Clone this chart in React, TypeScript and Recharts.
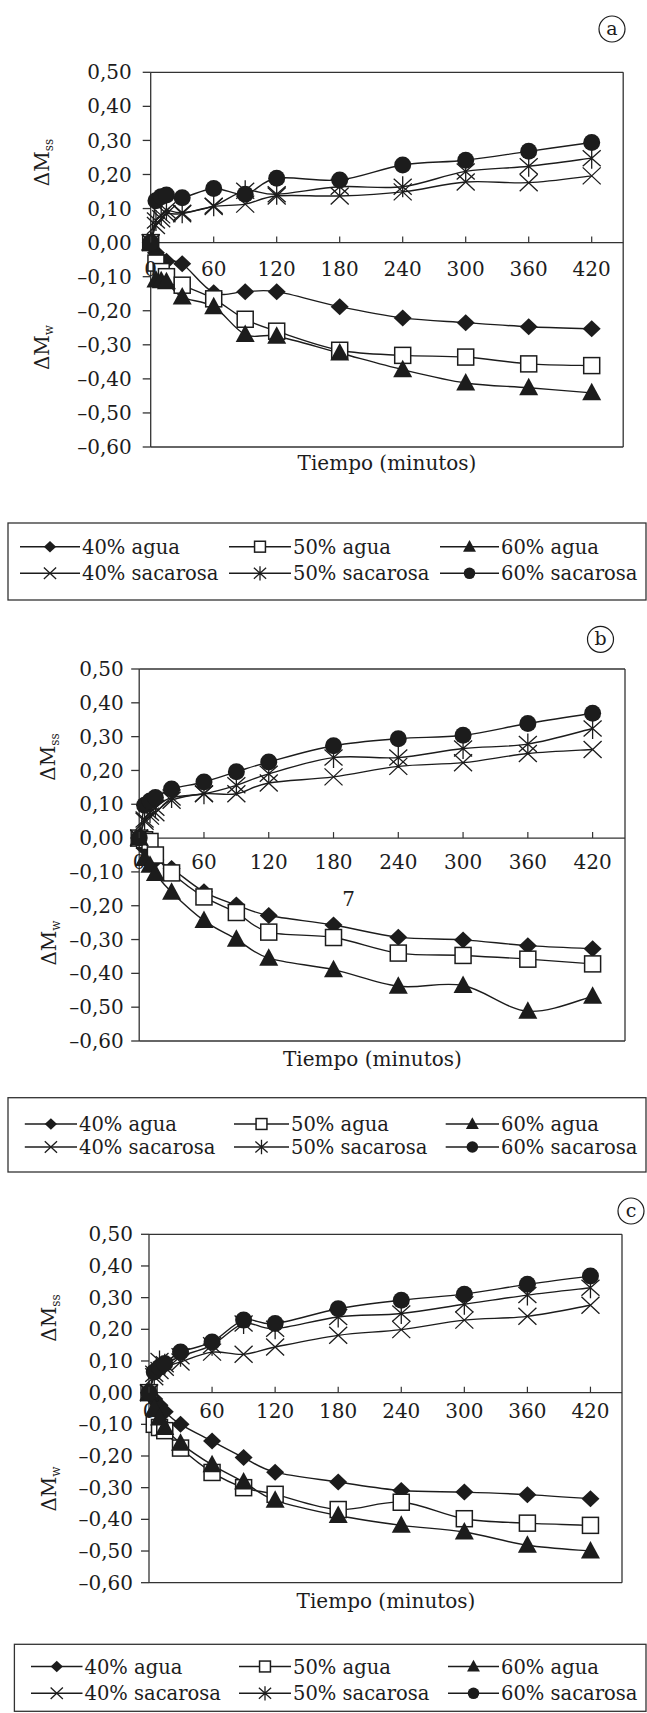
import React from 'react';
import { LineChart, Line, XAxis, YAxis, ReferenceLine } from 'recharts';

// ---------- data ----------
const TIEMPOS = [0, 5, 10, 15, 30, 60, 90, 120, 180, 240, 300, 360, 420];
const X_TICKS = [0, 60, 120, 180, 240, 300, 360, 420];
const Y_TICKS = [-0.6, -0.5, -0.4, -0.3, -0.2, -0.1, 0, 0.1, 0.2, 0.3, 0.4, 0.5];
const SERIES_NAMES = ['40% agua', '50% agua', '60% agua', '40% sacarosa', '50% sacarosa', '60% sacarosa'];
const SERIES_KEYS = ['a40', 'a50', 'a60', 's40', 's50', 's60'];
const SERIES_MARKERS = ['diamond', 'square', 'triangle', 'x', 'star', 'circle'];

// panel (a)
const A_AGUA_40 = [0, -0.03, -0.05, -0.055, -0.062, -0.147, -0.144, -0.144, -0.188, -0.221, -0.235, -0.247, -0.253];
const A_AGUA_50 = [0, -0.06, -0.085, -0.1, -0.125, -0.165, -0.225, -0.26, -0.316, -0.331, -0.336, -0.356, -0.361];
const A_AGUA_60 = [0, -0.11, -0.112, -0.115, -0.16, -0.188, -0.27, -0.275, -0.324, -0.373, -0.412, -0.426, -0.441];
const A_SAC_40 = [0, 0.05, 0.07, 0.085, 0.085, 0.106, 0.113, 0.137, 0.137, 0.149, 0.178, 0.176, 0.196];
const A_SAC_50 = [0, 0.065, 0.08, 0.095, 0.088, 0.108, 0.152, 0.142, 0.164, 0.164, 0.209, 0.224, 0.248];
const A_SAC_60 = [0, 0.123, 0.135, 0.14, 0.132, 0.159, 0.142, 0.189, 0.184, 0.228, 0.242, 0.268, 0.294];

// panel (b)
const B_AGUA_40 = [0, -0.03, -0.05, -0.065, -0.09, -0.159, -0.198, -0.229, -0.257, -0.293, -0.301, -0.318, -0.327];
const B_AGUA_50 = [0, -0.005, -0.01, -0.05, -0.103, -0.174, -0.22, -0.278, -0.294, -0.34, -0.347, -0.358, -0.372];
const B_AGUA_60 = [0, -0.06, -0.08, -0.105, -0.16, -0.244, -0.299, -0.355, -0.389, -0.438, -0.436, -0.512, -0.468];
const B_SAC_40 = [0, 0.05, 0.065, 0.075, 0.112, 0.131, 0.131, 0.163, 0.181, 0.212, 0.223, 0.25, 0.262];
const B_SAC_50 = [0, 0.055, 0.075, 0.09, 0.12, 0.131, 0.156, 0.19, 0.238, 0.238, 0.265, 0.278, 0.324];
const B_SAC_60 = [0, 0.097, 0.11, 0.12, 0.145, 0.166, 0.196, 0.225, 0.273, 0.294, 0.304, 0.339, 0.369];

// panel (c)
const C_AGUA_40 = [0, -0.02, -0.04, -0.06, -0.1, -0.153, -0.205, -0.251, -0.282, -0.309, -0.314, -0.322, -0.335];
const C_AGUA_50 = [0, -0.1, -0.11, -0.12, -0.175, -0.252, -0.3, -0.321, -0.369, -0.346, -0.398, -0.412, -0.419];
const C_AGUA_60 = [0, -0.05, -0.08, -0.11, -0.16, -0.228, -0.282, -0.34, -0.388, -0.419, -0.44, -0.482, -0.5];
const C_SAC_40 = [0, 0.05, 0.07, 0.08, 0.097, 0.128, 0.121, 0.144, 0.181, 0.199, 0.229, 0.241, 0.276];
const C_SAC_50 = [0, 0.06, 0.1, 0.09, 0.115, 0.15, 0.218, 0.202, 0.239, 0.25, 0.279, 0.308, 0.331];
const C_SAC_60 = [0, 0.065, 0.08, 0.092, 0.128, 0.16, 0.229, 0.218, 0.265, 0.292, 0.311, 0.342, 0.368];

const PANEL_LETTERS = ['a', 'b', 'c'];
const X_TITLE = 'Tiempo (minutos)';
const STRAY_TEXT = '7';

const buildRows = (series: number[][]) =>
  TIEMPOS.map((t, i) => {
    const row: any = { t };
    SERIES_KEYS.forEach((k, j) => (row[k] = series[j][i]));
    return row;
  });

const DATA_A = buildRows([A_AGUA_40, A_AGUA_50, A_AGUA_60, A_SAC_40, A_SAC_50, A_SAC_60]);
const DATA_B = buildRows([B_AGUA_40, B_AGUA_50, B_AGUA_60, B_SAC_40, B_SAC_50, B_SAC_60]);
const DATA_C = buildRows([C_AGUA_40, C_AGUA_50, C_AGUA_60, C_SAC_40, C_SAC_50, C_SAC_60]);

// ---------- layout / style ----------
const FONT = '"DejaVu Serif", serif';
const INK = '#1c1c1c';
const FRAME = '#333';
const Y_MIN = -0.6;
const Y_MAX = 0.5;
const X_MAX = 450;

const LAYOUT = [
  {
    data: DATA_A, L: 150.7, R: 623.2, T: 72.3, B: 447, tickMargin: 11, xLabOff: 33.4,
    circle: [612, 29], mss: [49, 162.5], mw: [49, 347.5], title: [387, 470],
    legend: { x: 8, y: 523, w: 638, h: 77, rows: [546.7, 573.3], cols: [[20, 80], [229, 291], [440, 499]] },
  },
  {
    data: DATA_B, L: 139.2, R: 625, T: 669, B: 1041, tickMargin: 7.5, xLabOff: 30.6,
    circle: [600.5, 639.3], mss: [55, 757], mw: [56, 943], title: [372.4, 1066], stray: [348.7, 906],
    legend: { x: 8, y: 1097.7, w: 638, h: 74.3, rows: [1124, 1147], cols: [[24.8, 77], [234, 289], [445.7, 499]] },
  },
  {
    data: DATA_C, L: 149, R: 622, T: 1234.3, B: 1582.7, tickMargin: 8, xLabOff: 25.6,
    circle: [631, 1211], mss: [56, 1318], mw: [56, 1489], title: [386, 1608],
    legend: { x: 14.4, y: 1644.3, w: 631.6, h: 67, rows: [1666.5, 1693.3], cols: [[31, 82.5], [239, 291], [448, 499]] },
  },
];

// Excel-like smoothed line (Catmull-Rom through points)
const excelSmooth: any = (context: any) => {
  let pts: number[][] = [];
  return {
    areaStart() {},
    areaEnd() {},
    lineStart() {
      pts = [];
    },
    point(x: number, y: number) {
      pts.push([+x, +y]);
    },
    lineEnd() {
      const n = pts.length;
      if (!n) return;
      context.moveTo(pts[0][0], pts[0][1]);
      for (let i = 0; i < n - 1; i++) {
        const p0 = pts[i > 0 ? i - 1 : i];
        const p1 = pts[i];
        const p2 = pts[i + 1];
        const p3 = pts[i + 2 < n ? i + 2 : i + 1];
        context.bezierCurveTo(
          p1[0] + (p2[0] - p0[0]) / 6,
          p1[1] + (p2[1] - p0[1]) / 6,
          p2[0] - (p3[0] - p1[0]) / 6,
          p2[1] - (p3[1] - p1[1]) / 6,
          p2[0],
          p2[1]
        );
      }
    },
  };
};

function marker(kind: string, cx: number, cy: number, s = 1, key?: any) {
  switch (kind) {
    case 'diamond':
      return (
        <path key={key} d={`M${cx} ${cy - 8.5 * s}L${cx + 9 * s} ${cy}L${cx} ${cy + 8.5 * s}L${cx - 9 * s} ${cy}Z`} fill={INK} />
      );
    case 'square':
      return (
        <rect key={key} x={cx - 8 * s} y={cy - 8 * s} width={16 * s} height={16 * s} fill="#fff" stroke={INK} strokeWidth={1.5} />
      );
    case 'triangle':
      return (
        <path key={key} d={`M${cx} ${cy - 10 * s}L${cx + 9.5 * s} ${cy + 7.5 * s}L${cx - 9.5 * s} ${cy + 7.5 * s}Z`} fill={INK} />
      );
    case 'x':
      return (
        <path
          key={key}
          d={`M${cx - 9 * s} ${cy - 8.5 * s}L${cx + 9 * s} ${cy + 8.5 * s}M${cx + 9 * s} ${cy - 8.5 * s}L${cx - 9 * s} ${cy + 8.5 * s}`}
          stroke={INK}
          strokeWidth={1.3}
          fill="none"
        />
      );
    case 'star':
      return (
        <path
          key={key}
          d={`M${cx - 9 * s} ${cy - 8 * s}L${cx + 9 * s} ${cy + 8 * s}M${cx + 9 * s} ${cy - 8 * s}L${cx - 9 * s} ${cy + 8 * s}M${cx} ${cy - 10.5 * s}L${cx} ${cy + 10.5 * s}`}
          stroke={INK}
          strokeWidth={1.3}
          fill="none"
        />
      );
    default:
      return <circle key={key} cx={cx} cy={cy} r={8.5 * s} fill={INK} />;
  }
}

const fmtY = (v: number) => {
  const s = Math.abs(v).toFixed(2).replace('.', ',');
  return v < -1e-9 ? '\u2013' + s : s;
};

function Panel({ cfg }: { cfg: any }) {
  const xAxisH = 24;
  const height = cfg.B + xAxisH;
  const zeroY = cfg.T + (cfg.B - cfg.T) * (Y_MAX / (Y_MAX - Y_MIN));
  const XTick = (p: any) => (
    <g>
      <line x1={p.x} x2={p.x} y1={zeroY} y2={zeroY - 6} stroke={FRAME} strokeWidth={1.2} />
      <text x={p.x} y={zeroY + cfg.xLabOff} textAnchor="middle" fontSize={20} fontFamily={FONT} fill={INK}>
        {p.payload.value}
      </text>
    </g>
  );
  return (
    <div style={{ position: 'absolute', left: 0, top: 0 }}>
      <LineChart
        width={647}
        height={height}
        data={cfg.data}
        margin={{ top: cfg.T, right: 647 - cfg.R, bottom: 0, left: 0 }}
      >
        <XAxis
          type="number"
          dataKey="t"
          domain={[0, X_MAX]}
          ticks={X_TICKS}
          interval={0}
          height={xAxisH}
          axisLine={false}
          tickLine={false}
          tick={XTick}
        />
        <YAxis
          type="number"
          width={cfg.L}
          domain={[Y_MIN, Y_MAX]}
          ticks={Y_TICKS}
          interval={0}
          tickSize={8}
          tickMargin={cfg.tickMargin}
          tickFormatter={fmtY}
          axisLine={{ stroke: FRAME, strokeWidth: 1.3 }}
          tickLine={{ stroke: FRAME, strokeWidth: 1.3 }}
          tick={{ fill: INK, fontSize: 20, fontFamily: FONT }}
        />
        <ReferenceLine y={Y_MAX} stroke={FRAME} strokeWidth={1.3} />
        <ReferenceLine y={Y_MIN} stroke={FRAME} strokeWidth={1.3} />
        <ReferenceLine x={X_MAX} stroke={FRAME} strokeWidth={1.3} />
        <ReferenceLine y={0} stroke={FRAME} strokeWidth={1.3} />
        {SERIES_KEYS.map((k, i) => (
          <Line
            key={k}
            dataKey={k}
            name={SERIES_NAMES[i]}
            type={excelSmooth}
            stroke={INK}
            strokeWidth={1.4}
            isAnimationActive={false}
            activeDot={false}
            dot={(p: any) => marker(SERIES_MARKERS[i], p.cx, p.cy, 1, p.key ?? `${k}-${p.index}`)}
          />
        ))}
      </LineChart>
    </div>
  );
}

function DeltaLabel({ x, y, sub }: { x: number; y: number; sub: string }) {
  return (
    <text
      x={x}
      y={y}
      transform={`rotate(-90 ${x} ${y})`}
      textAnchor="middle"
      fontSize={20}
      fontFamily={FONT}
      fill={INK}
    >
      ΔM
      <tspan fontSize={12} dy={4}>
        {sub}
      </tspan>
    </text>
  );
}

function Overlay() {
  return (
    <svg
      width={647}
      height={1713}
      style={{ position: 'absolute', left: 0, top: 0, pointerEvents: 'none' }}
    >
      {LAYOUT.map((cfg: any, pi) => (
        <g key={pi}>
          <circle cx={cfg.circle[0]} cy={cfg.circle[1]} r={13} fill="none" stroke={INK} strokeWidth={1.2} />
          <text x={cfg.circle[0]} y={cfg.circle[1] + 6} textAnchor="middle" fontSize={19} fontFamily={FONT} fill={INK}>
            {PANEL_LETTERS[pi]}
          </text>
          <DeltaLabel x={cfg.mss[0]} y={cfg.mss[1]} sub="ss" />
          <DeltaLabel x={cfg.mw[0]} y={cfg.mw[1]} sub="w" />
          <text x={cfg.title[0]} y={cfg.title[1]} textAnchor="middle" fontSize={20} fontFamily={FONT} fill={INK}>
            {X_TITLE}
          </text>
          {cfg.stray && (
            <text x={cfg.stray[0]} y={cfg.stray[1]} textAnchor="middle" fontSize={20} fontFamily={FONT} fill={INK}>
              {STRAY_TEXT}
            </text>
          )}
          <rect
            x={cfg.legend.x}
            y={cfg.legend.y}
            width={cfg.legend.w}
            height={cfg.legend.h}
            fill="none"
            stroke={FRAME}
            strokeWidth={1.3}
          />
          {SERIES_NAMES.map((name, i) => {
            const row = Math.floor(i / 3);
            const col = i % 3;
            const c = cfg.legend.cols[col];
            const y = cfg.legend.rows[row];
            const mx = (c[0] + c[1]) / 2;
            return (
              <g key={i}>
                <line x1={c[0]} x2={c[1]} y1={y} y2={y} stroke={INK} strokeWidth={1.4} />
                {marker(SERIES_MARKERS[i], mx, y, 0.68)}
                <text x={c[1] + 2} y={y + 7} fontSize={19.5} fontFamily={FONT} fill={INK}>
                  {name}
                </text>
              </g>
            );
          })}
        </g>
      ))}
    </svg>
  );
}

export default function App() {
  return (
    <div style={{ position: 'absolute', left: 0, top: 0, width: 647, height: 1713, background: '#fff', overflow: 'hidden' }}>
      {LAYOUT.map((cfg, i) => (
        <Panel key={i} cfg={cfg} />
      ))}
      <Overlay />
    </div>
  );
}
